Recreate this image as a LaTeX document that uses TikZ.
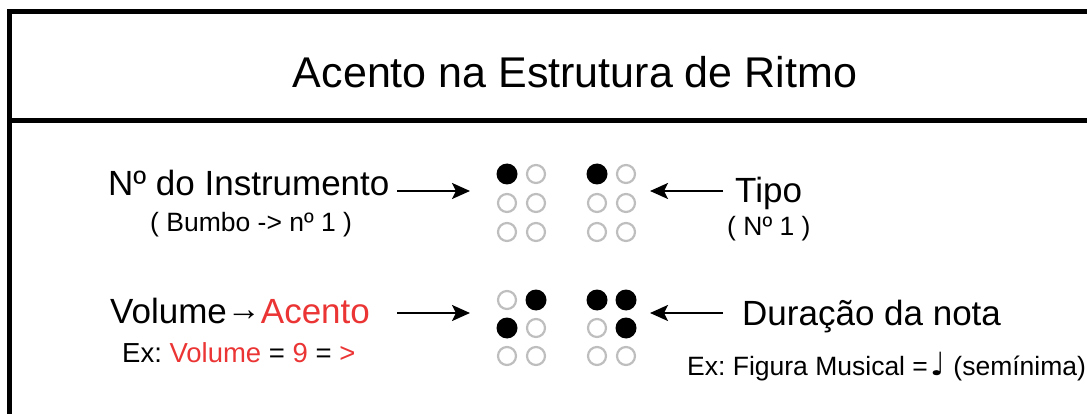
\documentclass[tikz,border=0pt]{standalone}
\usepackage{fontspec}
\setmainfont{Liberation Sans}
\newfontfamily\symfont{DejaVu Sans}
\usetikzlibrary{arrows.meta}
\definecolor{accent}{RGB}{235,52,52}
\definecolor{dotgray}{RGB}{190,190,190}
\frenchspacing
\begin{document}
\begin{tikzpicture}[x=1pt,y=-1pt,
  ttl/.style={font=\fontsize{43}{50}\selectfont, inner sep=0, anchor=base},
  lbl/.style={font=\fontsize{35}{40}\selectfont, inner sep=0, anchor=base west},
  sml/.style={font=\fontsize{26.5}{30}\selectfont, inner sep=0, anchor=base west},
  dotfull/.style={circle, fill=black, minimum size=21pt, inner sep=0},
  dotopen/.style={circle, draw=dotgray, line width=2.2pt, minimum size=18pt, inner sep=0},
  conn/.style={line width=2.5pt, -{Stealth[length=18pt,width=16pt,inset=4pt]}},
  frame/.style={line width=5pt, black}]
\useasboundingbox (0,0) rectangle (1087,414);
\clip (0,0) rectangle (1087,414);
% frame
\draw[frame] (1100,11.5) -- (9.5,11.5) -- (9.5,430);
\draw[frame] (9.5,120.5) -- (1100,120.5);
% title
\node[ttl] (title) at (575,88) {Acento na Estrutura de Ritmo};
% left labels
\node[lbl] (instr) at (108,196) {Nº do Instrumento};
\node[sml] (bumbo) at (150,232) {( Bumbo -> nº 1 )};
\node[lbl] (vol) at (110,323) {Volume\raisebox{3pt}{\fontsize{34}{36}\selectfont→}\textcolor{accent}{Acento}};
\node[sml, font=\fontsize{27.5}{30}\selectfont] (exvol) at (122,362) {Ex: \textcolor{accent}{Volume} = \textcolor{accent}{9} = \textcolor{accent}{>}};
% right labels
\node[lbl] (tipo) at (735,203) {Tipo};
\node[sml] (tipoex) at (727,236) {( Nº 1 )};
\node[lbl] (dur) at (742,325) {Duração da nota};
\node[sml, font=\fontsize{26.5}{30}\selectfont] (durex) at (687,375) {Ex: Figura Musical =\kern3pt{\symfont\fontsize{32}{40}\selectfont ♩}\ (semínima)};
% braille dots
\foreach \nm/\x/\y/\st in {
  a1/507/174/dotfull, a2/507/203/dotopen, a3/507/232/dotopen,
  a4/536/174/dotopen, a5/536/203/dotopen, a6/536/232/dotopen,
  b1/597/174/dotfull, b2/597/203/dotopen, b3/597/232/dotopen,
  b4/626/174/dotopen, b5/626/203/dotopen, b6/626/232/dotopen,
  c1/507/300/dotopen, c2/507/328/dotfull, c3/507/356/dotopen,
  c4/536/300/dotfull, c5/536/328/dotopen, c6/536/356/dotopen,
  d1/597/300/dotfull, d2/597/328/dotopen, d3/597/356/dotopen,
  d4/626/300/dotfull, d5/626/328/dotfull, d6/626/356/dotopen}
  \node[\st] (\nm) at (\x,\y) {};
% arrow coordinates
\coordinate (aTs) at (397,191);
\coordinate (aTe) at (470,191);
\coordinate (bTs) at (723,191);
\coordinate (bTe) at (650,191);
\coordinate (aBs) at (397,313);
\coordinate (aBe) at (470,313);
\coordinate (bBs) at (723,313);
\coordinate (bBe) at (650,313);
\draw[conn] (aTs) -- (aTe);
\draw[conn] (bTs) -- (bTe);
\draw[conn] (aBs) -- (aBe);
\draw[conn] (bBs) -- (bBe);
\end{tikzpicture}
\end{document}
